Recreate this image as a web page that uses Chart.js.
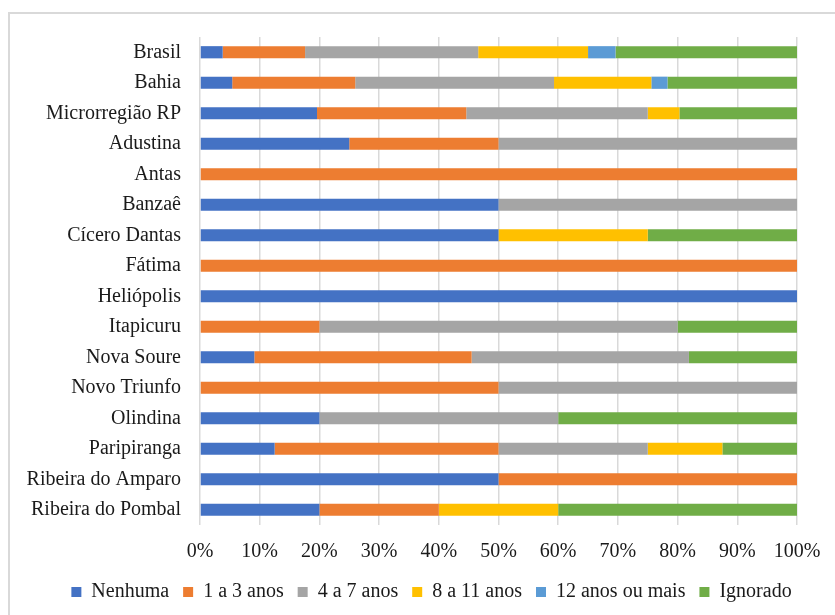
<!DOCTYPE html>
<html>
<head>
<meta charset="utf-8">
<script src="https://cdn.jsdelivr.net/npm/chart.js@4.4.1/dist/chart.umd.min.js"></script>
<style>
  body { margin: 0; background: #fff; overflow: hidden; }
  #wrap { position: relative; width: 835px; height: 615px; }
  #frame { position: absolute; left: 8px; top: 12px; width: 840px; height: 620px;
           border-left: 2px solid #d9d9d9; border-top: 2px solid #d9d9d9; }
  canvas { position: absolute; left: 0; top: 0; }
</style>
</head>
<body>
<div id="wrap">
  <div id="frame"></div>
  <canvas id="chart" width="835" height="615"></canvas>
</div>
<script>
const places = ['Brasil', 'Bahia', 'Microrregião RP', 'Adustina', 'Antas', 'Banzaê',
  'Cícero Dantas', 'Fátima', 'Heliópolis', 'Itapicuru', 'Nova Soure', 'Novo Triunfo',
  'Olindina', 'Paripiranga', 'Ribeira do Amparo', 'Ribeira do Pombal'];

// percentages per schooling group, same order as places
const nenhuma   = [3.8, 5.4, 19.6, 25, 0, 50, 50, 0, 100, 0, 9.1, 0, 20, 12.5, 50, 20];
const anos1a3   = [13.8, 20.6, 25.0, 25, 100, 0, 0, 100, 0, 20, 36.4, 50, 0, 37.5, 50, 20];
const anos4a7   = [29.0, 33.3, 30.4, 50, 0, 50, 0, 0, 0, 60, 36.4, 50, 40, 25, 0, 0];
const anos8a11  = [18.4, 16.3, 5.3, 0, 0, 0, 25, 0, 0, 0, 0, 0, 0, 12.5, 0, 20];
const anos12    = [4.6, 2.7, 0, 0, 0, 0, 0, 0, 0, 0, 0, 0, 0, 0, 0, 0];
const ignorado  = [30.4, 21.7, 19.7, 0, 0, 0, 25, 0, 0, 20, 18.2, 0, 40, 12.5, 0, 40];

const xTicks = [0, 10, 20, 30, 40, 50, 60, 70, 80, 90, 100];

const font = { family: '"Liberation Serif", "Times New Roman", serif', size: 20 };

const mk = (label, data, color) => ({
  label, data, backgroundColor: color, borderWidth: 0,
  barPercentage: 0.4, categoryPercentage: 1
});

// nudge the legend right so it sits where the original one is
const legendShift = {
  id: 'legendShift',
  afterLayout(chart) {
    chart.legend.left += 14;
    chart.legend.right += 14;
  }
};

new Chart(document.getElementById('chart').getContext('2d'), {
  type: 'bar',
  data: {
    labels: places,
    datasets: [
      mk('Nenhuma', nenhuma, '#4472C4'),
      mk('1 a 3 anos', anos1a3, '#ED7D31'),
      mk('4 a 7 anos', anos4a7, '#A5A5A5'),
      mk('8 a 11 anos', anos8a11, '#FFC000'),
      mk('12 anos ou mais', anos12, '#5B9BD5'),
      mk('Ignorado', ignorado, '#70AD47')
    ]
  },
  options: {
    indexAxis: 'y',
    responsive: false,
    animation: false,
    layout: { padding: { left: 10, right: 10, top: 37, bottom: 3 } },
    scales: {
      x: {
        stacked: true, min: 0, max: 100,
        afterBuildTicks: s => { s.ticks = xTicks.map(v => ({ value: v })); },
        afterFit: s => { s.paddingRight = 38; s.height = 43; },
        grid: { color: '#d9d9d9', lineWidth: 1.5, drawTicks: false },
        border: { display: false },
        ticks: { font, color: '#1a1a1a', padding: 15, callback: v => v + '%' }
      },
      y: {
        stacked: true,
        afterFit: s => { s.width = 190; },
        grid: { display: false, drawTicks: false },
        border: { display: false },
        ticks: { font, color: '#1a1a1a', padding: 19 }
      }
    },
    plugins: {
      tooltip: { enabled: false },
      legend: {
        position: 'bottom',
        labels: { font, color: '#1a1a1a', boxWidth: 10, boxHeight: 10, padding: 14 }
      }
    }
  },
  plugins: [legendShift]
});
</script>
</body>
</html>
